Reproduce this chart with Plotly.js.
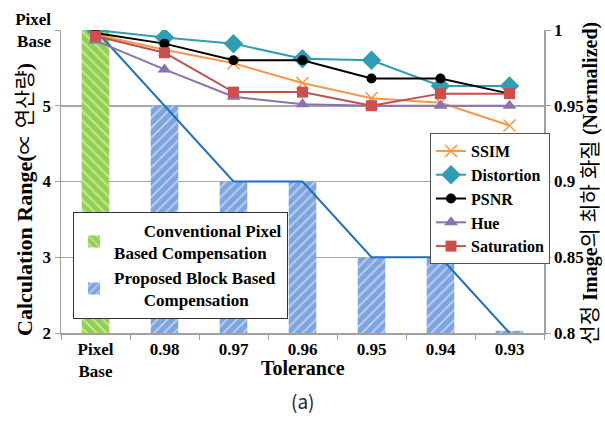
<!DOCTYPE html>
<html><head><meta charset="utf-8">
<script src="https://cdn.plot.ly/plotly-3.0.1.min.js"></script>
<style>html,body{margin:0;padding:0;background:#fff}#c{width:605px;height:424px}</style>
</head><body><div id="c"></div>
<script>
const categories = ['Pixel Base','0.98','0.97','0.96','0.95','0.94','0.93'];
const tickLabels = ['Pixel<br>Base','0.98','0.97','0.96','0.95','0.94','0.93'];
const pixelCalc = [6];
const blockCalc = [5,4,4,3,3,2.03];
const minQuality = [1.0,0.95,0.9,0.9,0.85,0.85,0.8];
const ssim       = [0.997,0.987,0.978,0.965,0.955,0.952,0.937];
const distortion = [1.0,0.995,0.991,0.981,0.980,0.963,0.963];
const psnr       = [0.998,0.991,0.980,0.980,0.968,0.968,0.958];
const hue        = [0.993,0.974,0.956,0.951,0.950,0.950,0.950];
const saturation = [0.996,0.985,0.959,0.959,0.950,0.958,0.958];

const serif = '"Liberation Serif", "Noto Sans CJK KR", serif';
const nb = '&nbsp;';
const traces = [
  {type:'bar', x:[categories[0]], y:pixelCalc, width:0.4, name:nb.repeat(7)+'Conventional Pixel<br>Based Compensation',
   marker:{color:'#92d050', pattern:{shape:'\\', fillmode:'overlay', fgcolor:'#ffffff', size:7, solidity:0.25}},
   legend:'legend', yaxis:'y'},
  {type:'bar', x:categories.slice(1), y:blockCalc, width:0.4, name:'Proposed Block Based<br>'+nb.repeat(7)+'Compensation',
   marker:{color:'#7ea5e0', pattern:{shape:'/', fillmode:'overlay', fgcolor:'#ffffff', size:7, solidity:0.25}},
   legend:'legend', yaxis:'y'},
  {type:'scatter', mode:'lines', x:categories, y:minQuality, yaxis:'y2', showlegend:false,
   line:{color:'#1f6fc2', width:2}},
  {type:'scatter', mode:'lines+markers', name:'SSIM', x:categories, y:ssim, yaxis:'y2', legend:'legend2',
   line:{color:'#f79646', width:2}, marker:{symbol:'x-thin', size:12, line:{color:'#f79646', width:1.5}}},
  {type:'scatter', mode:'lines+markers', name:'Distortion', x:categories, y:distortion, yaxis:'y2', legend:'legend2',
   line:{color:'#2f9db3', width:2}, marker:{symbol:'diamond', size:15, color:'#2f9db3'}},
  {type:'scatter', mode:'lines+markers', name:'PSNR', x:categories, y:psnr, yaxis:'y2', legend:'legend2',
   line:{color:'#000000', width:2}, marker:{symbol:'circle', size:10, color:'#000000'}},
  {type:'scatter', mode:'lines+markers', name:'Hue', x:categories, y:hue, yaxis:'y2', legend:'legend2',
   line:{color:'#8a72b0', width:2}, marker:{symbol:'triangle-up', size:12, color:'#8a72b0'}},
  {type:'scatter', mode:'lines+markers', name:'Saturation', x:categories, y:saturation, yaxis:'y2', legend:'legend2',
   line:{color:'#c0504d', width:2}, marker:{symbol:'square', size:11, color:'#c9504d'}}
];

const layout = {
  width:605, height:424, margin:{l:61, r:61, t:30, b:91},
  paper_bgcolor:'#fff', plot_bgcolor:'#fff', barmode:'overlay', showlegend:true,
  font:{family:serif, color:'#000', size:16},
  xaxis:{type:'category', categoryorder:'array', categoryarray:categories,
    tickvals:categories, ticktext:tickLabels, showline:true, linecolor:'#a0a0a0', linewidth:1.5,
    ticks:'outside', tickcolor:'#a0a0a0', ticklen:5, tickson:'boundaries', showgrid:false,
    tickfont:{family:serif, size:17, weight:'bold'}},
  yaxis:{range:[2,6], tickvals:[2,3,4,5,6], ticktext:['2','3','4','5','Pixel<br>Base'],
    showline:true, linecolor:'#a0a0a0', linewidth:1.5, gridcolor:'#a6a6a6', gridwidth:1.5,
    ticks:'outside', tickcolor:'#a0a0a0', ticklen:5, zeroline:false,
    tickfont:{family:serif, size:17, weight:'bold'}},
  yaxis2:{overlaying:'y', side:'right', range:[0.8,1.0], tickvals:[0.8,0.85,0.9,0.95,1], ticktext:['0.8','0.85','0.9','0.95','1'],
    showline:true, linecolor:'#a0a0a0', linewidth:1.5, showgrid:false, zeroline:false,
    ticks:'outside', tickcolor:'#a0a0a0', ticklen:5,
    tickfont:{family:serif, size:17, weight:'bold'}},
  legend:{x:0.025, y:0.40, xanchor:'left', yanchor:'top', bgcolor:'#fff', bordercolor:'#333', borderwidth:1,
    font:{family:serif, size:17, weight:'bold'}, tracegroupgap:0, itemwidth:30},
  legend2:{x:0.764, y:0.66, xanchor:'left', yanchor:'top', bgcolor:'#fff', bordercolor:'#555', borderwidth:1,
    font:{family:serif, size:16, weight:'bold'}, tracegroupgap:0, itemwidth:30},
  annotations:[
    {text:'<b>Tolerance</b>', xref:'paper', yref:'paper', x:0.5, y:-0.115, xanchor:'center', yanchor:'middle',
     showarrow:false, font:{family:serif, size:20, color:'#000'}},
    {text:'<b>Calculation Range(</b><span style="font-size:21px">∝ 연산량</span><b>)</b>', xref:'paper', yref:'paper',
     x:-0.0745, y:0.439, xanchor:'center', yanchor:'middle', textangle:-90,
     showarrow:false, font:{family:serif, size:22, color:'#000'}},
    {text:'<span style="font-size:21px">선정 </span><b>Image</b><span style="font-size:21px">의 최하 화질 </span><b>(Normalized)</b>',
     xref:'paper', yref:'paper', x:1.0945, y:0.495, xanchor:'center', yanchor:'middle', textangle:-90,
     showarrow:false, font:{family:serif, size:20, color:'#000'}},
    {text:'(a)', xref:'paper', yref:'paper', x:0.5, y:-0.222, xanchor:'center', yanchor:'middle',
     showarrow:false, font:{family:'"Noto Sans CJK KR", "Noto Sans", sans-serif', size:19, color:'#222'}}]
};
Plotly.newPlot('c', traces, layout, {displayModeBar:false, staticPlot:true});
</script></body></html>
